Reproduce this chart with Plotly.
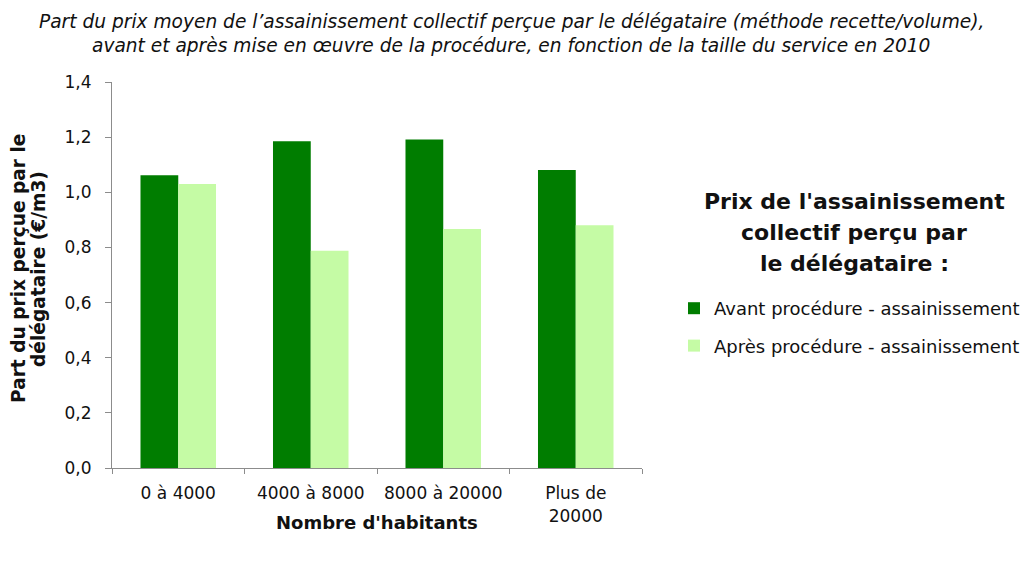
import plotly.graph_objects as go

# categories and values
categories = ["0 à 4000", "4000 à 8000", "8000 à 20000", "Plus de<br>20000"]
avant = [1.062, 1.185, 1.191, 1.081]
apres = [1.030, 0.788, 0.867, 0.880]
series_names = ["Avant procédure - assainissement", "Après procédure - assainissement"]
y_ticks = [0, 0.2, 0.4, 0.6, 0.8, 1.0, 1.2, 1.4]

font = "DejaVu Sans, Liberation Sans, Arial, sans-serif"
ink = "#111111"

# plot area in pixels
L, R, T, B = 112, 642, 82, 468
W, H = 1021, 561


def px_x(x):
    return (x - L) / (R - L)


def px_y(y):
    return (B - y) / (B - T)


fig = go.Figure()
fig.add_trace(go.Bar(x=categories, y=avant, name=series_names[0],
                     marker=dict(color="#007D00", line=dict(width=0)),
                     legendgroup="a"))
fig.add_trace(go.Bar(x=categories, y=apres, name=series_names[1],
                     marker=dict(color="#C5FBA5", line=dict(width=0)),
                     legendgroup="b"))

fig.update_layout(
    width=W, height=H,
    margin=dict(l=L, r=W - R, t=T, b=H - B),
    paper_bgcolor="white", plot_bgcolor="white",
    font=dict(family=font, size=17, color=ink),
    separators=", ",
    barmode="group", bargap=0.43, bargroupgap=0,
    showlegend=True,
    legend=dict(xref="container", yref="container", x=674 / W, y=1 - 290 / H,
                xanchor="left", yanchor="top", font=dict(size=18, color=ink),
                traceorder="grouped", tracegroupgap=11, itemwidth=30,
                bgcolor="rgba(0,0,0,0)"),
)

fig.update_xaxes(showline=True, linecolor="#8c8c8c", linewidth=1,
                 ticks="outside", tickson="boundaries", ticklen=5, tickcolor="#8c8c8c",
                 showgrid=False, tickfont=dict(size=17), ticklabelstandoff=10)
fig.update_yaxes(range=[0, 1.4], tickvals=y_ticks, tickformat=".1f",
                 showline=True, linecolor="#8c8c8c", linewidth=1,
                 ticks="outside", ticklen=6, tickcolor="#8c8c8c",
                 showgrid=False, zeroline=False, tickfont=dict(size=17),
                 ticklabelstandoff=10)

# chart title, two lines
title_lines = ["Part du prix moyen de l’assainissement collectif perçue par le délégataire (méthode recette/volume),",
               "avant et après mise en œuvre de la procédure, en fonction de la taille du service en 2010"]
for i, t in enumerate(title_lines):
    fig.add_annotation(text="<i>" + t + "</i>", xref="paper", yref="paper",
                       x=px_x(511), xanchor="center", y=px_y(22 + 23 * i), yanchor="middle",
                       showarrow=False, font=dict(size=18.6, color=ink))

# axis titles
fig.add_annotation(text="<b>Nombre d'habitants</b>", xref="paper", yref="paper",
                   x=px_x(377), xanchor="center", y=px_y(522), yanchor="middle",
                   showarrow=False, font=dict(size=18, color=ink))
ytitle = ["Part du prix perçue par le", "délégataire (€/m3)"]
for i, t in enumerate(ytitle):
    fig.add_annotation(text="<b>" + t + "</b>", xref="paper", yref="paper",
                       x=px_x(18 + 20 * i), xanchor="center", y=px_y(269), yanchor="middle",
                       textangle=-90, showarrow=False, font=dict(size=18.6, color=ink))

# legend heading, three lines
legend_title = ["Prix de l'assainissement", "collectif perçu par", "le délégataire :"]
for i, t in enumerate(legend_title):
    fig.add_annotation(text="<b>" + t + "</b>", xref="paper", yref="paper",
                       x=px_x(854), xanchor="center", y=px_y(201 + 31 * i), yanchor="middle",
                       showarrow=False, font=dict(size=22, color=ink))

fig.write_html("out.html", config={"displayModeBar": False},
               post_script="document.body.style.margin='0';")
